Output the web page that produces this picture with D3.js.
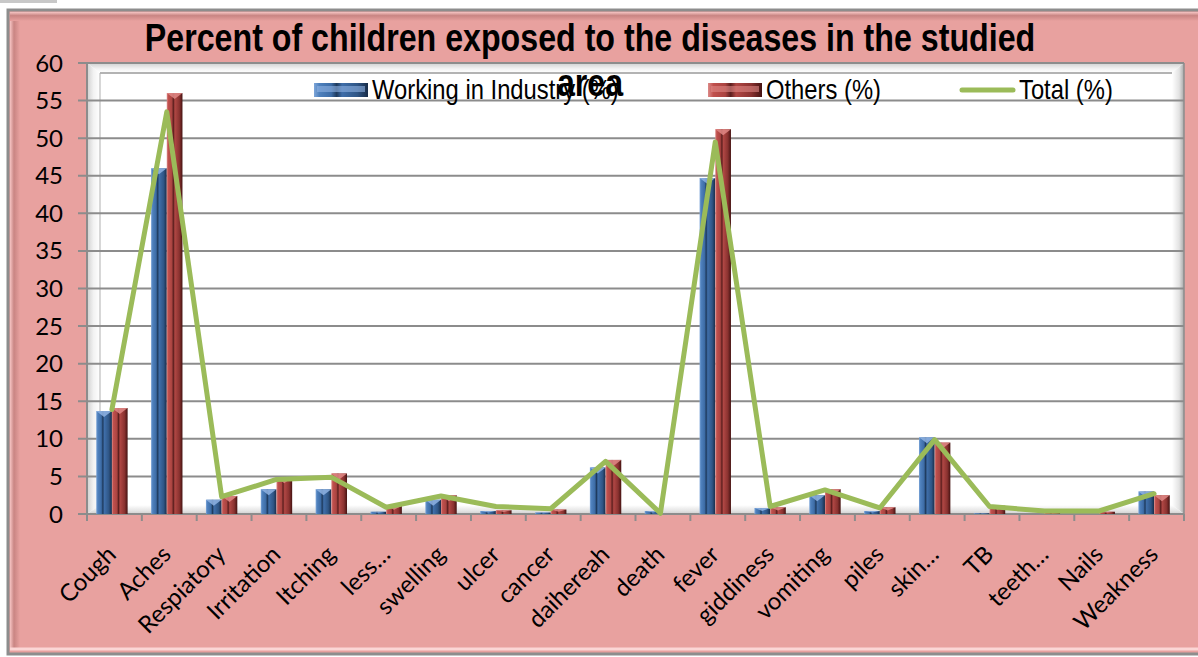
<!DOCTYPE html>
<html>
<head>
<meta charset="utf-8">
<script src="https://cdn.jsdelivr.net/npm/d3@7"></script>
<style>
  html, body { margin: 0; padding: 0; background: #ffffff; }
  svg { display: block; }
</style>
</head>
<body>
<svg id="chart" width="1198" height="657"></svg>
<script>
// Disease categories along the x axis
const categories = ["Cough", "Aches", "Respiatory", "Irritation", "Itching", "less…", "swelling",
  "ulcer", "cancer", "daihereah", "death", "fever", "giddiness", "vomiting", "piles", "skin…",
  "TB", "teeth…", "Nails", "Weakness"];

// Percent of children working in industry exposed to each disease
const industry = [13.7, 46, 1.9, 3.3, 3.3, 0.3, 1.9, 0.4, 0.2, 6.2, 0.4, 44.7, 0.8, 2.5, 0.4, 10.2, 0.1, 0, 0, 3.0];
// Percent of other children exposed
const others = [14.1, 56, 2.4, 4.9, 5.4, 1.1, 2.5, 0.5, 0.6, 7.2, 0, 51.2, 0.9, 3.3, 0.9, 9.5, 1.1, 0.1, 0.3, 2.5];
// Total percent
const total = [13.9, 53.5, 2.3, 4.6, 4.9, 0.9, 2.4, 1.0, 0.7, 7.0, 0.1, 49.5, 1.0, 3.2, 0.8, 9.9, 1.0, 0.4, 0.4, 2.7];

const yTicks = [0, 5, 10, 15, 20, 25, 30, 35, 40, 45, 50, 55, 60];
const seriesNames = ["Working in Industry (%)", "Others (%)", "Total (%)"];
const titleLines = ["Percent of children exposed to the diseases in the studied", "area"];

const svg = d3.select("#chart");
const defs = svg.append("defs");

const PINK = "#e8a19f";
const pLeft = 87, pRight = 1184, pTop = 63, pBottom = 514;

const x = d3.scaleBand().domain(categories).range([pLeft, pRight]).padding(0);
const y = d3.scaleLinear().domain([0, 60]).range([pBottom, pTop]);

// ---------- gradients ----------
function hGrad(id, stops) {
  const g = defs.append("linearGradient").attr("id", id)
    .attr("x1", "0%").attr("x2", "100%").attr("y1", "0%").attr("y2", "0%");
  stops.forEach(s => g.append("stop").attr("offset", s[0]).attr("stop-color", s[1]));
}
function vGrad(id, stops) {
  const g = defs.append("linearGradient").attr("id", id)
    .attr("x1", "0%").attr("x2", "0%").attr("y1", "0%").attr("y2", "100%");
  stops.forEach(s => g.append("stop").attr("offset", s[0]).attr("stop-color", s[1]));
}
hGrad("blueBar", [[0, "#7ea6d9"], [0.1, "#4f81bd"], [0.32, "#3d6ca6"], [0.42, "#1e3a5d"], [0.52, "#3f6ea9"],
  [0.8, "#2f5686"], [1, "#182c48"]]);
hGrad("redBar", [[0, "#dc8a88"], [0.1, "#c0504d"], [0.32, "#aa4441"], [0.42, "#5c1f1e"], [0.52, "#b04744"],
  [0.8, "#8a3230"], [1, "#451312"]]);
hGrad("leftWall", [[0, "#cfcfcf"], [0.5, "#f2f2f2"], [1, "#ffffff"]]);
hGrad("rightWall", [[0, "#ffffff"], [0.6, "#e2e2e2"], [1, "#a8a8a8"]]);
vGrad("topWall", [[0, "#d0d0d0"], [0.6, "#f4f4f4"], [1, "#ffffff"]]);
vGrad("floor", [[0, "#ffffff"], [0.6, "#e6e6e6"], [1, "#cfcfcf"]]);
hGrad("frameLeft", [[0, "#f6c4c3"], [0.4, "#c98583"], [1, PINK]]);
vGrad("frameTop", [[0, "#f6c4c3"], [0.4, "#c98583"], [1, PINK]]);

// ---------- outer frame ----------
svg.append("line").attr("x1", 0).attr("x2", 57).attr("y1", 1.5).attr("y2", 1.5)
  .attr("stroke", "#c8c8c8").attr("stroke-width", 3);
svg.append("rect").attr("x", 8).attr("y", 10).attr("width", 1198).attr("height", 644)
  .attr("fill", PINK).attr("stroke", "#8d8d8d").attr("stroke-width", 3);
svg.append("rect").attr("x", 10).attr("y", 12).attr("width", 10).attr("height", 636).attr("fill", "url(#frameLeft)");
svg.append("rect").attr("x", 10).attr("y", 12).attr("width", 1190).attr("height", 9).attr("fill", "url(#frameTop)");
svg.append("line").attr("x1", 10).attr("x2", 1198).attr("y1", 649).attr("y2", 649)
  .attr("stroke", "#fbd6d5").attr("stroke-width", 3);

// ---------- plot walls ----------
svg.append("rect").attr("x", pLeft).attr("y", pTop).attr("width", pRight - pLeft).attr("height", pBottom - pTop)
  .attr("fill", "#ffffff");
svg.append("polygon").attr("points", `${pLeft},${pTop} ${pRight},${pTop} ${pRight - 12},${pTop + 10} ${pLeft + 13},${pTop + 10}`)
  .attr("fill", "url(#topWall)");
svg.append("polygon").attr("points", `${pLeft},${pTop} ${pLeft + 13},${pTop + 10} ${pLeft + 13},${pBottom - 9} ${pLeft},${pBottom}`)
  .attr("fill", "url(#leftWall)");
svg.append("polygon").attr("points", `${pRight - 12},${pTop + 10} ${pRight},${pTop} ${pRight},${pBottom} ${pRight - 12},${pBottom - 9}`)
  .attr("fill", "url(#rightWall)");
svg.append("polygon").attr("points", `${pLeft},${pBottom} ${pLeft + 13},${pBottom - 9} ${pRight - 12},${pBottom - 9} ${pRight},${pBottom}`)
  .attr("fill", "url(#floor)");
svg.append("line").attr("x1", pLeft + 13).attr("x2", pRight - 12).attr("y1", pTop + 10).attr("y2", pTop + 10)
  .attr("stroke", "#9a9a9a").attr("stroke-width", 1.5);
svg.append("line").attr("x1", pLeft + 13).attr("x2", pLeft + 13).attr("y1", pTop + 10).attr("y2", pBottom - 9)
  .attr("stroke", "#b0b0b0").attr("stroke-width", 1);

// ---------- gridlines & y axis ----------
svg.append("g").selectAll("line").data(yTicks).join("line")
  .attr("x1", pLeft - 9).attr("x2", pRight)
  .attr("y1", d => y(d)).attr("y2", d => y(d))
  .attr("stroke", "#8c8c8c").attr("stroke-width", 2);
svg.append("line").attr("x1", pLeft).attr("x2", pLeft).attr("y1", pTop).attr("y2", pBottom)
  .attr("stroke", "#8c8c8c").attr("stroke-width", 2);
svg.append("line").attr("x1", pRight).attr("x2", pRight).attr("y1", pTop).attr("y2", pBottom)
  .attr("stroke", "#8c8c8c").attr("stroke-width", 1.5);

svg.append("g").selectAll("text").data(yTicks).join("text")
  .attr("x", 63).attr("y", d => y(d) + 8.5)
  .attr("text-anchor", "end")
  .attr("font-family", "Lato, 'Open Sans', sans-serif").attr("font-size", 24).attr("fill", "#000")
  .text(d => d);

// ---------- x axis ----------
const xBounds = categories.map(c => x(c)).concat([pRight]);
svg.append("g").selectAll("line").data(xBounds).join("line")
  .attr("x1", d => d).attr("x2", d => d).attr("y1", pBottom).attr("y2", pBottom + 7)
  .attr("stroke", "#8c8c8c").attr("stroke-width", 2);
svg.append("line").attr("x1", pLeft).attr("x2", pRight).attr("y1", pBottom).attr("y2", pBottom)
  .attr("stroke", "#8c8c8c").attr("stroke-width", 2);

svg.append("g").selectAll("text").data(categories).join("text")
  .attr("transform", d => `translate(${x(d) + x.bandwidth() / 2 + 3},${pBottom + 42}) rotate(-45)`)
  .attr("text-anchor", "end")
  .attr("font-family", "Lato, 'Open Sans', sans-serif").attr("font-size", 24).attr("fill", "#000")
  .text(d => d);

// ---------- bars ----------
const barW = x.bandwidth() * 0.286;
const shift = -2.5;
const groups = [
  { vals: industry, fill: "url(#blueBar)", bevel: "#8fb3e3", off: -barW },
  { vals: others, fill: "url(#redBar)", bevel: "#e08886", off: 0 }
];
groups.forEach(gd => {
  const g = svg.append("g");
  const bx = (c) => x(c) + x.bandwidth() / 2 + shift + gd.off;
  g.selectAll("rect").data(categories).join("rect")
    .attr("x", c => bx(c))
    .attr("y", (c, i) => y(gd.vals[i]))
    .attr("width", barW)
    .attr("height", (c, i) => pBottom - y(gd.vals[i]))
    .attr("fill", gd.fill);
  // bevelled top face
  g.selectAll("polygon").data(categories).join("polygon")
    .attr("points", (c, i) => {
      const x0 = bx(c), yt = y(gd.vals[i]);
      const h = Math.min(6, (pBottom - yt) / 2);
      return `${x0},${yt} ${x0 + barW},${yt} ${x0 + barW / 2},${yt + h}`;
    })
    .attr("fill", gd.bevel).attr("opacity", 0.85);
});

// ---------- total line ----------
const line = d3.line()
  .x((d, i) => x(categories[i]) + x.bandwidth() / 2 + shift)
  .y(d => y(d));
svg.append("path").datum(total)
  .attr("d", line)
  .attr("fill", "none").attr("stroke", "#9bbb59").attr("stroke-width", 5)
  .attr("stroke-linejoin", "round").attr("stroke-linecap", "round");

// ---------- legend ----------
// condensed sans: regular sans squeezed horizontally
const narrowFont = "'Liberation Sans Narrow', 'Arial Narrow', 'Liberation Sans', Arial, sans-serif";
const legend = svg.append("g");
[["#4f81bd", "#8fb3e3", 314], ["#c0504d", "#e08886", 708]].forEach((s, i) => {
  legend.append("rect").attr("x", s[2]).attr("y", 83).attr("width", 54).attr("height", 14)
    .attr("fill", i === 0 ? "url(#blueBar)" : "url(#redBar)");
  legend.append("rect").attr("x", s[2] + 3).attr("y", 86).attr("width", 48).attr("height", 6)
    .attr("fill", s[1]).attr("opacity", 0.6);
});
legend.append("line").attr("x1", 962).attr("x2", 1013).attr("y1", 90).attr("y2", 90)
  .attr("stroke", "#9bbb59").attr("stroke-width", 5).attr("stroke-linecap", "round");
const legendScale = 0.85;
[372, 766, 1019].forEach((lx, i) => {
  legend.append("text")
    .attr("transform", `translate(${lx},99) scale(${legendScale},1)`)
    .attr("font-family", narrowFont).attr("font-size", 28).attr("fill", "#000")
    .text(seriesNames[i]);
});

// ---------- title ----------
const titleScale = 0.825;
const title = svg.append("text")
  .attr("transform", `translate(590,0) scale(${titleScale},1)`)
  .attr("text-anchor", "middle")
  .attr("font-family", narrowFont).attr("font-weight", "bold").attr("font-size", 39).attr("fill", "#000");
title.append("tspan").attr("x", 0).attr("y", 51).text(titleLines[0]);
title.append("tspan").attr("x", 0).attr("y", 96).text(titleLines[1]);
</script>
</body>
</html>
